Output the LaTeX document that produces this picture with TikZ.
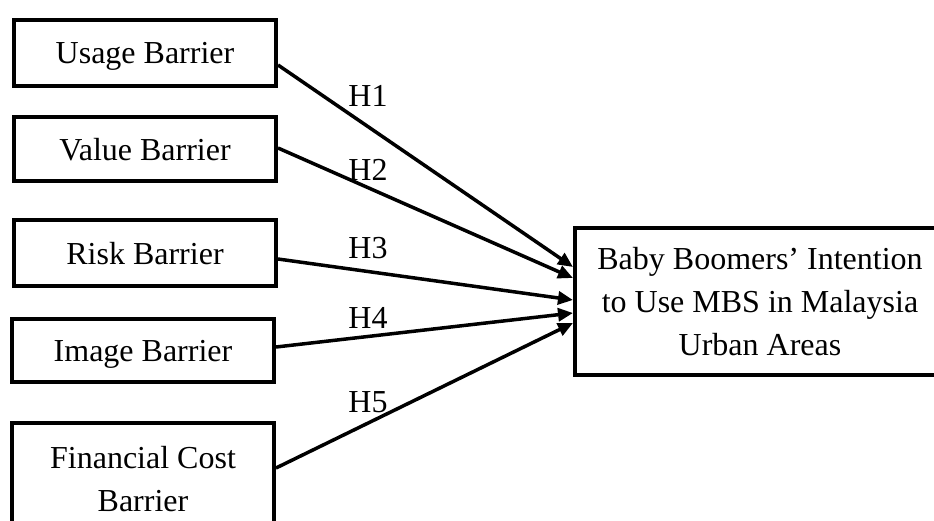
\documentclass[tikz,border=0pt]{standalone}
\usepackage{fontspec}
\setmainfont{Liberation Serif}
\usetikzlibrary{arrows.meta,calc}
\begin{document}
\begin{tikzpicture}[x=1pt,y=-1pt,
  box/.style={draw=black,line width=4pt,inner sep=0pt,align=center,text depth=0pt,
    font=\fontsize{32}{43}\selectfont},
  hyp/.style={inner sep=0pt,font=\fontsize{32}{43}\selectfont},
  arr/.style={line width=3.5pt,-{Triangle[length=15pt,width=13pt]}}]
\useasboundingbox (0,0) rectangle (934,520);
\node[box,minimum width=262pt,minimum height=66pt] (u) at (145,53) {Usage Barrier};
\node[box,minimum width=262pt,minimum height=64pt] (v) at (145,149) {Value Barrier};
\node[box,minimum width=262pt,minimum height=66pt] (r) at (145,253) {Risk Barrier};
\node[box,minimum width=262pt,minimum height=63pt] (i) at (143,350.5) {Image Barrier};
\node[box,minimum width=262pt,minimum height=112pt] (f) at (143,479) {Financial Cost\\Barrier};
\node[box,minimum width=370pt,minimum height=147pt] (t) at (760,301.5) {Baby Boomers’ Intention\\to Use MBS in Malaysia\\Urban Areas};
\draw[arr] ([yshift=-12pt]u.east) -- ([yshift=34.5pt]t.west);
\draw[arr] ([yshift=1pt]v.east) -- ([yshift=23.5pt]t.west);
\draw[arr] ([yshift=-6pt]r.east) -- ([yshift=1.5pt]t.west);
\draw[arr] ([yshift=3.5pt]i.east) -- ([yshift=-11.5pt]t.west);
\draw[arr] ([yshift=11pt]f.east) -- ([yshift=-21.5pt]t.west);
\node[hyp] (h1) at (368,96) {H1};
\node[hyp] (h2) at (368,170) {H2};
\node[hyp] (h3) at (368,248) {H3};
\node[hyp] (h4) at (368,318) {H4};
\node[hyp] (h5) at (368,402) {H5};
\end{tikzpicture}
\end{document}
